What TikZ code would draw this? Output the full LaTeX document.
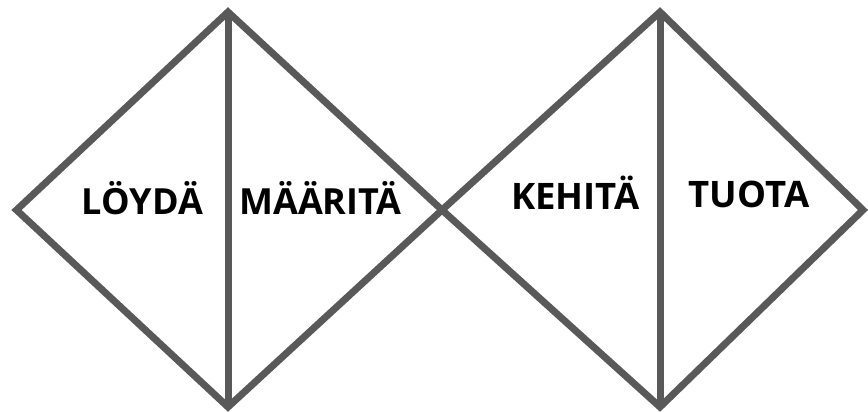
\documentclass[tikz,border=0pt]{standalone}
\usepackage{fontspec}
\setmainfont{Open Sans}
\definecolor{edgegray}{HTML}{595959}
\tikzset{
  dedge/.style={draw=edgegray, line width=7pt, line join=miter},
  lbl/.style={anchor=base, inner sep=0pt, font=\fontsize{36}{40}\selectfont\bfseries, text=black},
  lblr/.style={lbl, font=\fontsize{36.5}{40}\selectfont\bfseries}
}
\begin{document}
\begin{tikzpicture}[x=1pt,y=1pt]
\useasboundingbox (0,0) rectangle (868,412);
\fill[white] (0,0) rectangle (868,412);
% left diamond
\coordinate (aL) at (16.5,202);
\coordinate (aT) at (228,400);
\coordinate (aB) at (228,5);
\coordinate (aR) at (442,202);
% right diamond
\coordinate (bL) at (442,202);
\coordinate (bT) at (660,400);
\coordinate (bB) at (660,5);
\coordinate (bR) at (863,202);
\draw[dedge] (aL) -- (aT) -- (aR) -- (aB) -- cycle;
\draw[dedge] (aT) -- (aB);
\draw[dedge] (bL) -- (bT) -- (bR) -- (bB) -- cycle;
\draw[dedge] (bT) -- (bB);
\node[lbl] (loyda) at (142.5,197) {LÖYDÄ};
\node[lbl] (maarita) at (320.5,197) {MÄÄRITÄ};
\node[lblr] (kehita) at (575.5,202) {KEHITÄ};
\node[lblr] (tuota) at (749,204) {TUOTA};
\end{tikzpicture}
\end{document}
